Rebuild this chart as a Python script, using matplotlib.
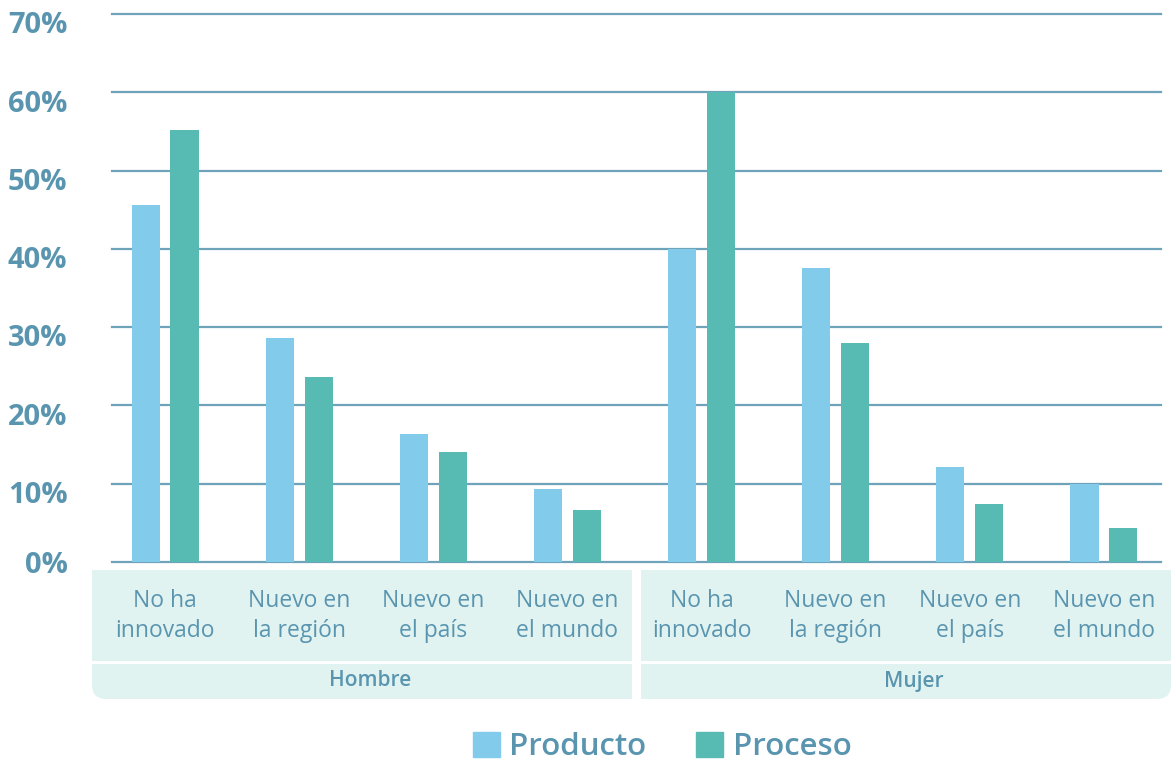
import matplotlib.pyplot as plt
from matplotlib.patches import FancyBboxPatch, Rectangle, Patch
from matplotlib.transforms import ScaledTranslation

plt.rcParams["font.family"] = ["Open Sans", "DejaVu Sans"]

# ---- data ----
groups = ["Hombre", "Mujer"]
categories = ["No ha\ninnovado", "Nuevo en\nla región", "Nuevo en\nel país", "Nuevo en\nel mundo"]
producto = [45.6, 28.6, 16.3, 9.3, 40.0, 37.5, 12.1, 10.0]
proceso = [55.2, 23.6, 14.0, 6.6, 60.0, 28.0, 7.4, 4.3]
yticks = [0, 10, 20, 30, 40, 50, 60, 70]

C_PROD = "#82cbeb"
C_PROC = "#57bab3"
C_TEXT = "#5a95b0"
C_GRID = "#6ea3ba"
C_BOX = "#e1f3f1"

W, H = 1171, 763
fig = plt.figure(figsize=(W / 100, H / 100), dpi=100)

# overlay in pixel units for the label boxes
ov = fig.add_axes([0, 0, 1, 1])
ov.set_xlim(0, W)
ov.set_ylim(H, 0)
ov.axis("off")

# main plot: slots start at x=98px, zero at y=562px, 70% at y=14px
X0 = 98
ax = fig.add_axes([X0 / W, (H - 562) / H, (W - X0) / W, 548 / H])
n = len(producto)
x = list(range(n))
bw = 0.209
off = 0.145
ax.bar([i - off for i in x], producto, width=bw, color=C_PROD, zorder=2)
ax.bar([i + off for i in x], proceso, width=bw, color=C_PROC, zorder=2)
ax.set_xlim(-0.5, n - 0.5)
ax.set_ylim(0, 70)
span = W - X0
for v in yticks:
    ax.axhline(v, xmin=14 / span, xmax=(1161 - X0) / span, color=C_GRID, lw=1.6,
               zorder=1, clip_on=False)
ax.set_yticks(yticks)
ax.set_yticklabels([f"{v}%" for v in yticks], fontsize=21, fontweight="bold",
                   color=C_TEXT)
ax.tick_params(axis="y", length=0, pad=22)
for v, lab in zip(yticks, ax.get_yticklabels()):
    dy = 0 if v == 0 else -6 / 72
    lab.set_transform(lab.get_transform() + ScaledTranslation(0, dy, fig.dpi_scale_trans))
ax.set_xticks([])
for s in ax.spines.values():
    s.set_visible(False)
ax.patch.set_alpha(0)

# ---- category / group boxes ----
slot = (W - X0) / n
per = len(categories)
box_x = [(92, 632), (641, W)]
for g, name in enumerate(groups):
    left, right = box_x[g]
    ov.add_patch(Rectangle((left, 570), right - left, 91, color=C_BOX, lw=0))
    ov.add_patch(FancyBboxPatch((left, 664), right - left, 35,
                                boxstyle="round,pad=0,rounding_size=14",
                                color=C_BOX, lw=0))
    # square off the other corners
    ov.add_patch(Rectangle((left, 664), right - left, 18, color=C_BOX, lw=0))
    if g == 0:
        ov.add_patch(Rectangle((left + 30, 664), right - left - 30, 35, color=C_BOX, lw=0))
    else:
        ov.add_patch(Rectangle((left, 664), right - left - 30, 35, color=C_BOX, lw=0))
    ov.text((left + right) / 2 + 8, 681, name, ha="center", va="center",
            fontsize=15, fontweight="semibold", color=C_TEXT)
    for k, cat in enumerate(categories):
        cx = X0 + (g * per + k + 0.5) * slot
        ov.text(cx, 616, cat, ha="center", va="center", fontsize=16.5,
                color=C_TEXT, linespacing=1.32)

# ---- legend ----
handles = [Patch(color=C_PROD, label="Producto"), Patch(color=C_PROC, label="Proceso")]
leg = fig.legend(handles=handles, loc="lower center", bbox_to_anchor=(662 / W, 0.001),
                 ncol=2, frameon=False, fontsize=22.5, handlelength=0.87,
                 handleheight=0.87, handletextpad=0.3, columnspacing=1.6,
                 borderaxespad=0, borderpad=0)
for t in leg.get_texts():
    t.set_color(C_TEXT)
    t.set_fontweight("semibold")

fig.savefig("out.png", dpi=100)
